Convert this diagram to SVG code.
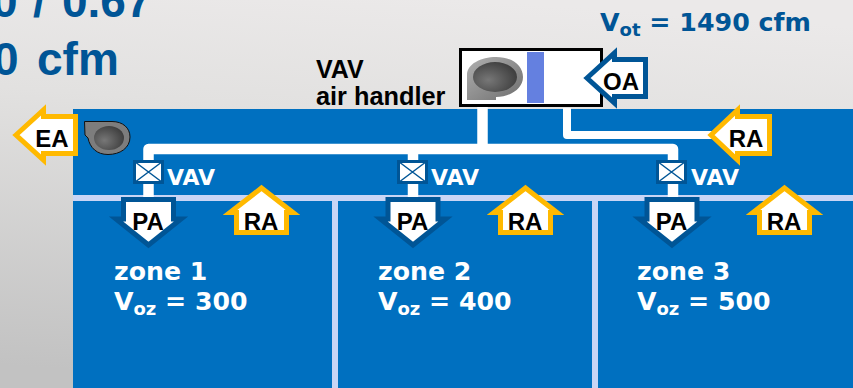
<svg xmlns="http://www.w3.org/2000/svg" width="853" height="388" viewBox="0 0 853 388">
<style>
.h{font-family:"Liberation Sans",Arial,sans-serif;font-weight:700}
.d{font-family:"DejaVu Sans",Verdana,sans-serif;font-weight:700}
.lab{font-size:24px;fill:#000;text-anchor:middle}
.w{fill:#fff}
.b{fill:#005596}
.sub{font-size:18px}
.ya{fill:#fff;stroke:#FFB900;stroke-width:5}
.ba{fill:#fff;stroke:#005596;stroke-width:5}
.duct{fill:none;stroke:#fff;stroke-width:10.5;stroke-linejoin:round}
.vav rect{fill:#fff;stroke:#005596;stroke-width:3}
.vav path{fill:none;stroke:#005596;stroke-width:1.5}
</style>
<defs>
<linearGradient id="bg" x1="0.55" y1="0" x2="0.4" y2="1"><stop offset="0" stop-color="#ebe9e9"/><stop offset="0.3" stop-color="#e2e1e0"/><stop offset="1" stop-color="#c2c2c2"/></linearGradient>
<radialGradient id="fan" cx="0.35" cy="0.6" r="0.8"><stop offset="0" stop-color="#777"/><stop offset="1" stop-color="#333"/></radialGradient>
<linearGradient id="fanb" x1="0" y1="0" x2="1" y2="1"><stop offset="0" stop-color="#b0b0b0"/><stop offset="1" stop-color="#6e6e6e"/></linearGradient>
</defs>
<rect width="853" height="388" fill="url(#bg)"/>
<g id="building">
<rect x="73" y="109" width="780" height="279" fill="#0070C0"/>
<rect x="73" y="195" width="780" height="6" fill="#C9D5F5"/>
<rect x="332" y="195" width="6" height="193" fill="#C9D5F5"/>
<rect x="592" y="195" width="6" height="193" fill="#C9D5F5"/>
</g>
<g id="title">
<text class="h b" y="17" font-size="46"><tspan x="-8">0</tspan><tspan x="33">/</tspan><tspan x="62">0.67</tspan></text>
<text class="h b" y="75" font-size="46"><tspan x="-7">0</tspan><tspan x="37">cfm</tspan></text>
</g>
<g id="vot"><text class="d b" x="600" y="31" font-size="25.300">V<tspan class="sub" dy="5">ot</tspan><tspan dy="-5"> = 1490 cfm</tspan></text></g>
<g id="connectors">
<path class="duct" d="M148.500 198V149H673V198"/>
<path class="duct" d="M413 149V198"/>
<path class="duct" d="M482.500 104V149"/>
<path d="M567 108V135H720" fill="none" stroke="#fff" stroke-width="8" stroke-linejoin="round"/>
</g>
<g id="air-handler">
<rect x="460.500" y="49.500" width="141" height="56" fill="#fff" stroke="#000" stroke-width="3"/>
<path d="M467 97V75C467 64 481 57 496 57C513 57 523 66 523 77C523 88 511 97 496 97V100H467Z" fill="url(#fanb)"/>
<ellipse cx="495" cy="77" rx="22" ry="15" fill="url(#fan)"/>
<rect x="527" y="52" width="17" height="51" fill="#6480E0"/>
<text class="h" x="316" y="78" font-size="25">VAV</text>
<text class="h" x="316" y="105" font-size="25.300">air handler</text>
</g>
<g id="oa"><path class="ba" d="M587 78L614.500 53V59.500H645.500V96.500H614.500V103Z"/><text class="h lab" x="621" y="90">OA</text></g>
<g id="ra-main"><path class="ya" d="M711 135L737.500 110V116.500H769.500V153.500H737.500V160Z"/><text class="h lab" x="746" y="147">RA</text></g>
<g id="ea"><path class="ya" d="M16 135L43.500 110V116.500H75.500V153.500H43.500V160Z"/><text class="h lab" x="52" y="147">EA</text></g>
<g id="exhaust-fan">
<path d="M84.500 121.500H112C123 121.500 130 128 130 137C130 148 120 154.500 108 154.500C97 154.500 90 148 88 138L85 135Z" fill="#7d7d7d" stroke="#111" stroke-width="1"/>
<ellipse cx="109" cy="138" rx="15" ry="12" fill="url(#fan)"/>
</g>
<g id="vav1" class="vav"><rect x="134.500" y="161.500" width="28" height="21"/><path d="M134.500 161.500L162.500 182.500M162.500 161.500L134.500 182.500"/><text class="d w" x="167" y="185" font-size="22">VAV</text></g>
<g id="vav2" class="vav"><rect x="398.500" y="161.500" width="28" height="21"/><path d="M398.500 161.500L426.500 182.500M426.500 161.500L398.500 182.500"/><text class="d w" x="431" y="185" font-size="22">VAV</text></g>
<g id="vav3" class="vav"><rect x="657.500" y="161.500" width="28" height="21"/><path d="M657.500 161.500L685.500 182.500M685.500 161.500L657.500 182.500"/><text class="d w" x="691" y="185" font-size="22">VAV</text></g>
<g id="pa1"><path class="ba" d="M123.500 199.500H173.500V219H181L148.500 245L116 219H123.500Z"/><text class="h lab" x="148" y="230">PA</text></g>
<g id="pa2"><path class="ba" d="M388 199.500H438V219H445.500L413 245L380.500 219H388Z"/><text class="h lab" x="412.500" y="230">PA</text></g>
<g id="pa3"><path class="ba" d="M647 199.500H697V219H704.500L672 245L639.500 219H647Z"/><text class="h lab" x="671.500" y="230">PA</text></g>
<g id="ra1"><path class="ya" d="M261.500 188L293 212.500H286.500V232.500H236.500V212.500H230Z"/><text class="h lab" x="261" y="230">RA</text></g>
<g id="ra2"><path class="ya" d="M525.500 188L557 212.500H550.500V232.500H500.500V212.500H494Z"/><text class="h lab" x="525" y="230">RA</text></g>
<g id="ra3"><path class="ya" d="M784.500 188L816 212.500H809.500V232.500H759.500V212.500H753Z"/><text class="h lab" x="784" y="230">RA</text></g>
<g id="zone1"><text class="d w" x="114" y="280" font-size="25.200">zone 1</text><text class="d w" x="114" y="310" font-size="25.200">V<tspan class="sub" dy="5">oz</tspan><tspan dy="-5"> = 300</tspan></text></g>
<g id="zone2"><text class="d w" x="378" y="280" font-size="25.200">zone 2</text><text class="d w" x="378" y="310" font-size="25.200">V<tspan class="sub" dy="5">oz</tspan><tspan dy="-5"> = 400</tspan></text></g>
<g id="zone3"><text class="d w" x="637" y="280" font-size="25.200">zone 3</text><text class="d w" x="637" y="310" font-size="25.200">V<tspan class="sub" dy="5">oz</tspan><tspan dy="-5"> = 500</tspan></text></g>
</svg>
